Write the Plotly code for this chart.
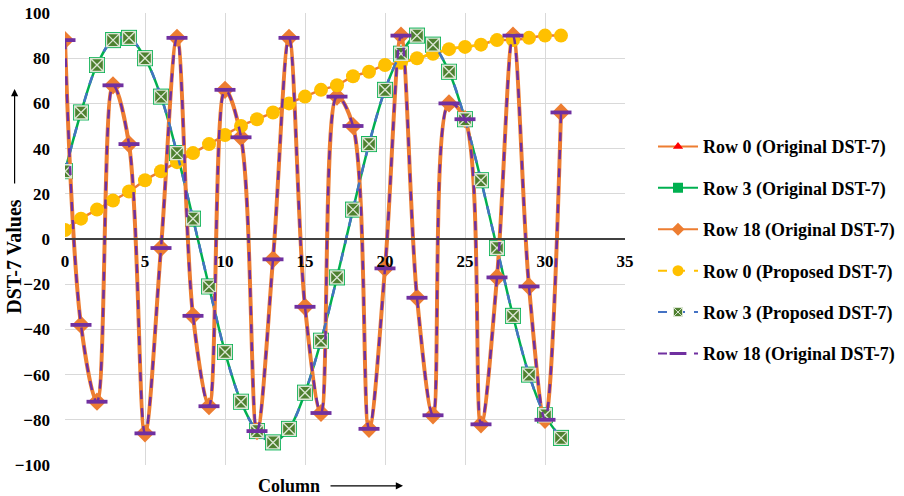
import plotly.graph_objects as go

columns = list(range(32))
row0 = [4, 9, 13, 17, 21, 26, 30, 34, 38, 42, 46, 50, 53, 56, 60, 63,
        66, 68, 72, 74, 77, 78, 80, 82, 84, 85, 86, 88, 88, 89, 90, 90]
row3 = [30, 56, 77, 88, 89, 80, 63, 38, 9, -21, -50, -72, -85, -90, -84, -68,
        -45, -17, 13, 42, 66, 82, 90, 86, 74, 53, 26, -4, -34, -60, -78, -88]
row18 = [88, -38, -72, 68, 42, -86, -4, 89, -34, -74, 66, 45, -85, -9, 89, -30,
         -77, 63, 50, -84, -13, 90, -26, -78, 60, 53, -82, -17, 90, -21, -80, 56]

names = ["Row 0 (Original DST-7)", "Row 3 (Original DST-7)", "Row 18 (Original DST-7)",
         "Row 0 (Proposed DST-7)", "Row 3 (Proposed DST-7)", "Row 18 (Original DST-7)"]
x_ticks = [0, 5, 10, 15, 20, 25, 30, 35]
y_ticks = [-100, -80, -60, -40, -20, 0, 20, 40, 60, 80, 100]

FONT = "Liberation Serif"
fig = go.Figure()

specs = [
    (row0, dict(color="#ED7D31", width=2.5), dict(symbol="triangle-up", size=11, color="#FF0000"),
     dict(color="#ED7D31", width=2), dict(symbol="triangle-up", size=9, color="#FF0000")),
    (row3, dict(color="#00B050", width=2.5), dict(symbol="square", size=16, color="#00B050"),
     dict(color="#00B050", width=2), dict(symbol="square", size=10, color="#00B050")),
    (row18, dict(color="#ED7D31", width=4), dict(symbol="diamond", size=14, color="#ED7D31"),
     dict(color="#ED7D31", width=2), dict(symbol="diamond", size=10, color="#ED7D31")),
    (row0, dict(color="#FFC000", width=2.5, dash="dash"), dict(symbol="circle", size=14, color="#FFC000"),
     dict(color="#FFC000", width=2, dash="dash"), dict(symbol="circle", size=11, color="#FFC000")),
    (row3, dict(color="#4472C4", width=2.5, dash="dash"),
     dict(symbol="square-x", size=13, color="#4E8030", line=dict(color="#DCE6D4", width=1.4)),
     dict(color="#4472C4", width=2, dash="dash"),
     dict(symbol="square-x", size=9, color="#4E8030", line=dict(color="#DCE6D4", width=1))),
    (row18, dict(color="#7030A0", width=2.5, dash="dash"),
     dict(symbol="line-ew", size=15, color="#7030A0", line=dict(color="#7030A0", width=3.8)),
     dict(color="#7030A0", width=2, dash="dash"),
     dict(symbol="line-ew", size=12, color="#7030A0", line=dict(color="#7030A0", width=3))),
]

for i, (vals, ln, mk, lln, lmk) in enumerate(specs):
    fig.add_trace(go.Scatter(
        x=columns, y=vals, name=names[i], mode="lines+markers",
        line=dict(shape="spline", smoothing=1.0, **ln), marker=mk,
        legendgroup=f"g{i}", showlegend=False,
    ))

# legend-only entries (smaller symbols, as in the reference legend)
for i, (vals, ln, mk, lln, lmk) in enumerate(specs):
    fig.add_trace(go.Scatter(
        x=[None], y=[None], name=names[i], mode="lines+markers",
        line=lln, marker=lmk, legendgroup=f"g{i}", showlegend=True,
    ))

fig.update_layout(
    width=904, height=496,
    margin=dict(l=65, r=279, t=13, b=31, autoexpand=False),
    paper_bgcolor="white", plot_bgcolor="white",
    font=dict(family=FONT, size=17, color="black"),
    showlegend=True,
    legend=dict(x=1.05, xanchor="left", y=0.745, yanchor="top",
                font=dict(family=FONT, size=18, color="black", weight="bold"),
                tracegroupgap=15, itemwidth=40, bgcolor="rgba(0,0,0,0)"),
    xaxis=dict(range=[0, 35], tickvals=x_ticks, showgrid=True, gridcolor="#D9D9D9", gridwidth=1,
               zeroline=False, showline=True, linecolor="#404040", linewidth=2,
               anchor="free", position=0.5, ticks="", automargin=False, ticklabelstandoff=7,
               tickfont=dict(family=FONT, size=17, color="black", weight="bold")),
    yaxis=dict(range=[-100, 100], tickvals=y_ticks, showgrid=True, gridcolor="#D9D9D9", gridwidth=1,
               zeroline=False, showline=False, ticks="", automargin=False, ticklabelstandoff=14,
               tickfont=dict(family=FONT, size=17, color="black", weight="bold")),
    annotations=[
        dict(text="<b>Column</b>", xref="paper", yref="paper", x=0.4, y=-0.046,
             xanchor="center", yanchor="middle", showarrow=False,
             font=dict(family=FONT, size=18, color="black")),
        dict(text="", xref="paper", yref="paper", x=0.6036, y=-0.046,
             showarrow=True, ax=-74, ay=0, arrowhead=2, arrowsize=1.2, arrowwidth=1.2,
             arrowcolor="black"),
        dict(text="<b>DST-7 Values</b>", xref="paper", yref="paper", x=-0.09, y=0.462,
             xanchor="center", yanchor="middle", showarrow=False, textangle=-90,
             font=dict(family=FONT, size=20, color="black")),
        dict(text="", xref="paper", yref="paper", x=-0.09, y=0.832,
             showarrow=True, ax=0, ay=96, arrowhead=2, arrowsize=1.2, arrowwidth=1.2,
             arrowcolor="black"),
    ],
)

fig.write_html("out.html", config={"displayModeBar": False},
               post_script="document.body.style.margin='0';")
